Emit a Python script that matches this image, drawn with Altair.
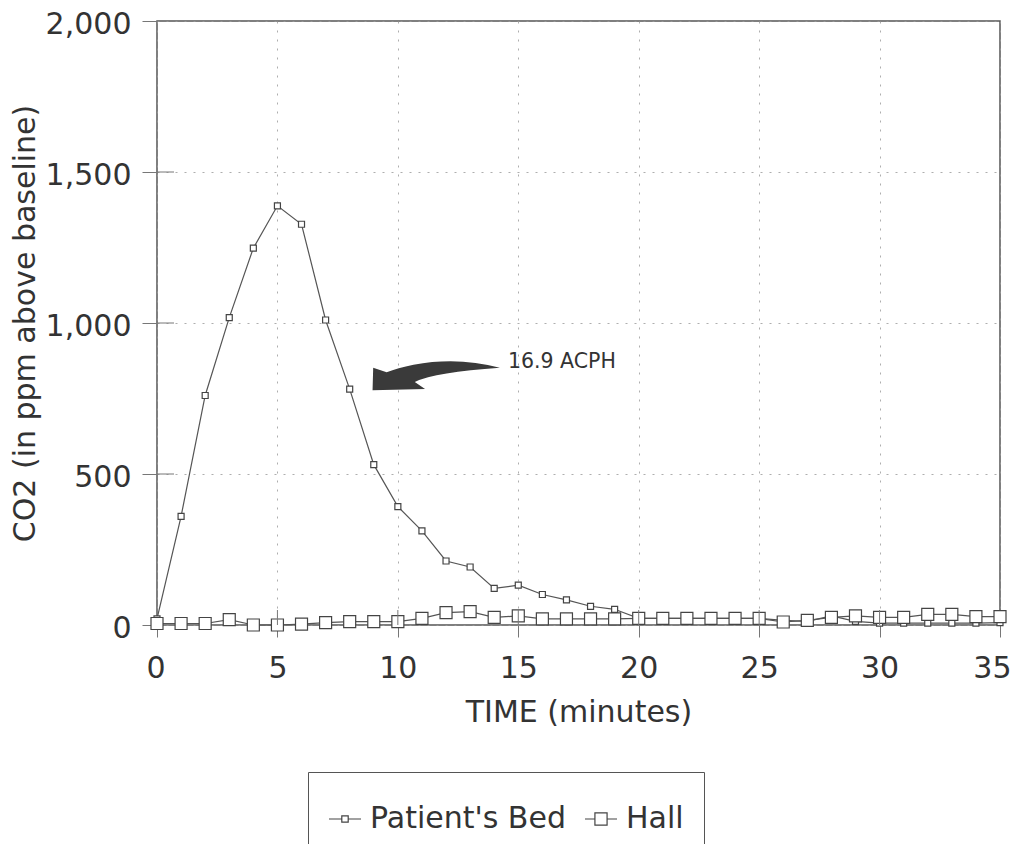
import altair as alt
import pandas as pd

# ---- data ----
time = list(range(36))
patient_bed = [20, 360, 760, 1018, 1248, 1388, 1327, 1010, 781, 531,
               392, 312, 212, 192, 121, 132, 101, 83, 62, 52,
               22, 22, 22, 22, 22, 22, 15, 12, 30, 12,
               6, 6, 6, 6, 6, 8]
hall = [5, 5, 5, 18, 0, 0, 3, 8, 11, 11,
        11, 22, 41, 44, 25, 30, 20, 20, 20, 20,
        22, 22, 22, 22, 22, 22, 10, 15, 25, 30,
        25, 25, 35, 35, 28, 28]
series_names = ["Patient's Bed", "Hall"]
marker_kinds = ["small", "big"]

x_ticks = [0, 5, 10, 15, 20, 25, 30, 35]
y_ticks = [0, 500, 1000, 1500, 2000]
x_inner_ticks = [5, 10, 15, 20, 25, 30]
y_inner_ticks = [500, 1000, 1500]

note_text = ["16.9 ACPH"]
note_x = [14.57]
note_y = [870]
arrow_x = [11.58]
arrow_y = [826]

FONT = "DejaVu Sans"
INK = "#444444"

n = len(time)
df = pd.DataFrame({
    "time": time * 2,
    "value": patient_bed + hall,
    "series": [series_names[0]] * n + [series_names[1]] * n,
    "marker": [marker_kinds[0]] * n + [marker_kinds[1]] * n,
})

x_enc = alt.X("time:Q", scale=alt.Scale(domain=[0, 35], nice=False),
              axis=alt.Axis(values=x_ticks, title="TIME (minutes)", tickSize=12,
                            labelPadding=16, titlePadding=14, format="d",
                            labelFlush=True, labelFlushOffset=11))
y_enc = alt.Y("value:Q", scale=alt.Scale(domain=[0, 2000], nice=False),
              axis=alt.Axis(values=y_ticks, title="CO2 (in ppm above baseline)",
                            tickSize=15, labelPadding=11, titlePadding=5,
                            labelOffset=3, format=",d", labelFlush=False))

base = alt.Chart(df)

lines = base.mark_line(color="#555555", strokeWidth=1.2).encode(
    x=x_enc, y=y_enc, detail="series:N")

points = base.mark_point(shape="square", filled=True, fill="white",
                         stroke=INK, strokeWidth=1.2, opacity=1).encode(
    x="time:Q", y="value:Q",
    size=alt.Size("marker:N", scale=alt.Scale(domain=marker_kinds, range=[36, 144]),
                  legend=None))

small_glyph = "M-1,0L-0.2,0M-0.2,-0.2L0.2,-0.2L0.2,0.2L-0.2,0.2ZM0.2,0L1,0"
big_glyph = "M-1,0L-0.38,0M-0.38,-0.38L0.38,-0.38L0.38,0.38L-0.38,0.38ZM0.38,0L1,0"

legend_layer = base.mark_point(filled=False, color=INK, strokeOpacity=0, size=1024).encode(
    x="time:Q", y="value:Q",
    shape=alt.Shape("series:N",
                    scale=alt.Scale(domain=series_names, range=[small_glyph, big_glyph]),
                    legend=alt.Legend(title=" ", titleFontSize=6, titlePadding=4,
                                      orient="none", direction="horizontal",
                                      legendX=151, legendY=751,
                                      labelFont=FONT, labelFontSize=30, labelColor="#333333",
                                      labelOffset=8, columnPadding=16,
                                      symbolSize=1024, symbolStrokeWidth=1.2,
                                      symbolStrokeColor=INK, symbolOpacity=1,
                                      padding=20, strokeColor="#555555",
                                      fillColor="white", labelLimit=400)))

yt_df = pd.DataFrame({"v": y_inner_ticks})
xt_df = pd.DataFrame({"v": x_inner_ticks})
y_inner = alt.Chart(yt_df).mark_rule(color="#777777", strokeWidth=1).encode(
    y="v:Q", x=alt.value(0), x2=alt.value(17))
x_inner = alt.Chart(xt_df).mark_rule(color="#777777", strokeWidth=1).encode(
    x="v:Q", y=alt.value(604), y2=alt.value(589))

arrow_path = ("M1,-0.12Q0.35,-0.3,-0.35,-0.17Q-0.6,-0.12,-0.77,-0.05"
              "L-0.98,-0.12L-0.99,0.23L-0.17,0.21L-0.33,0.1Q0,-0.05,1,-0.12Z")
arrow = alt.Chart(pd.DataFrame({"x": arrow_x, "y": arrow_y})).mark_point(
    shape=arrow_path, filled=True, color="#3a3a3a", opacity=1, size=16384,
    strokeWidth=0).encode(x="x:Q", y="y:Q")

note = alt.Chart(pd.DataFrame({"x": note_x, "y": note_y, "t": note_text})).mark_text(
    align="left", baseline="middle", font=FONT, fontSize=20.5, color="#333333").encode(
    x="x:Q", y="y:Q", text="t:N")

chart = alt.layer(lines, points, legend_layer, y_inner, x_inner, arrow, note).properties(
    width=843, height=604,
    padding={"left": 149, "top": 13, "right": 11, "bottom": 219},
    autosize=alt.AutoSizeParams(type="none"),
).configure_view(
    stroke="#555555", strokeWidth=1.5
).configure_axis(
    labelFont=FONT, labelFontSize=30, labelColor="#333333",
    titleFont=FONT, titleFontSize=30, titleColor="#333333", titleFontWeight="normal",
    domain=False, tickColor="#777777", tickWidth=1,
    grid=True, gridColor="#9a9a9a", gridDash=[2, 7], gridWidth=1, gridOpacity=0.8,
)

chart.save("out.html", embed_options={"renderer": "svg", "actions": False})
